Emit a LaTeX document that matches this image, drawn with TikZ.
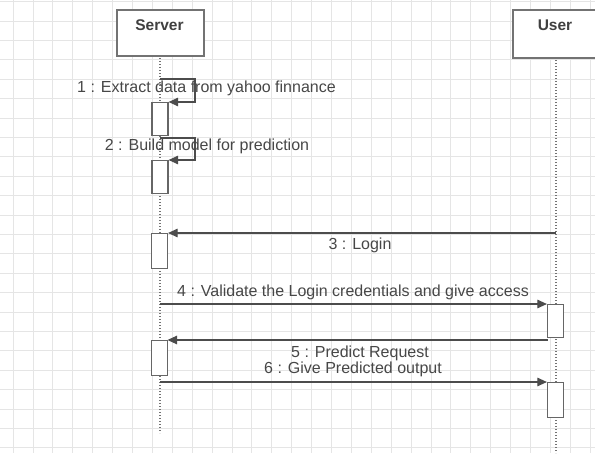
\documentclass[tikz,border=0pt]{standalone}
\usepackage{fontspec}
\setmainfont{Liberation Sans}
\usetikzlibrary{arrows.meta}
\begin{document}
\begin{tikzpicture}[x=1pt,y=-1pt,
  gridline/.style={draw=black!10, line width=0.8pt},
  lbl/.style={font=\fontsize{16}{18}\selectfont, text=black!72, inner sep=0pt},
  ttl/.style={font=\fontsize{15.5}{18}\selectfont\bfseries, text=black!75, inner sep=0pt},
  headbox/.style={draw=black!55, line width=1.6pt, fill=white, inner sep=0pt},
  actbox/.style={draw=black!60, line width=1.2pt, fill=white, inner sep=0pt, minimum width=16pt},
  msg/.style={draw=black!70, line width=1.1pt, -{Triangle[length=9.5pt,width=8.5pt]}},
  life/.style={draw=black!55, line width=1.3pt, dash pattern=on 1.3pt off 1.7pt}]
\useasboundingbox (0,0) rectangle (595,453);
\fill[white] (0,0) rectangle (595,453);
% grid
\foreach \i in {0,...,29} \draw[gridline] ({13+19.9*\i},0) -- ({13+19.9*\i},453);
\foreach \j in {0,...,23} \draw[gridline] (0,{1.5+19.4*\j}) -- (595,{1.5+19.4*\j});
% lifelines
\coordinate (sTop) at (160,55);
\coordinate (sBot) at (160,433);
\coordinate (uTop) at (556,57);
\coordinate (uBot) at (556,453);
\draw[life] (sTop) -- (sBot);
\draw[life] (uTop) -- (uBot);
% heads
\node[headbox, anchor=north west, minimum width=87pt, minimum height=46pt] (srv) at (116,9) {};
\node[ttl] (srvlbl) at (159.5,25) {Server};
\node[headbox, anchor=north west, minimum width=83pt, minimum height=48pt] (usr) at (512,9) {};
\node[ttl] (usrlbl) at (555,25) {User};
% activations
\node[actbox, anchor=north, minimum height=33pt] (a1) at (160,102) {};
\node[actbox, anchor=north, minimum height=33pt] (a2) at (160,160) {};
\node[actbox, anchor=north, minimum height=35pt] (a3) at (159.5,233) {};
\node[actbox, anchor=north, minimum height=33pt] (a4) at (555.5,304) {};
\node[actbox, anchor=north, minimum height=35pt] (a5) at (159.5,340) {};
\node[actbox, anchor=north, minimum height=35pt] (a6) at (555.5,382) {};
% message anchor points
\coordinate (m1s) at (160,79);
\coordinate (m1c1) at (195,79);
\coordinate (m1c2) at (195,102);
\coordinate (m2s) at (160,138);
\coordinate (m2c1) at (195,138);
\coordinate (m2c2) at (195,160);
\coordinate (m3s) at (556,233);
\coordinate (m4s) at (160,304);
\coordinate (m5s) at (547.5,340);
\coordinate (m5e) at (167.5,340);
\coordinate (m6s) at (160,382);
% messages
\draw[msg] (m1s) -- (m1c1) -- (m1c2) -- (a1.north east);
\draw[msg] (m2s) -- (m2c1) -- (m2c2) -- (a2.north east);
\draw[msg] (m3s) -- (a3.north east);
\draw[msg] (m4s) -- (a4.north west);
\draw[msg] (m5s) -- (m5e);
\draw[msg] (m6s) -- (a6.north west);
% labels
\node[lbl] (l1) at (206.5,88) {1 : Extract data from yahoo finnance};
\node[lbl] (l2) at (207,146) {2 : Build model for prediction};
\node[lbl] (l3) at (360,245) {3 : Login};
\node[lbl] (l4) at (353,292) {4 : Validate the Login credentials and give access};
\node[lbl] (l5) at (360,353) {5 : Predict Request};
\node[lbl] (l6) at (353,369) {6 : Give Predicted output};
\end{tikzpicture}
\end{document}
